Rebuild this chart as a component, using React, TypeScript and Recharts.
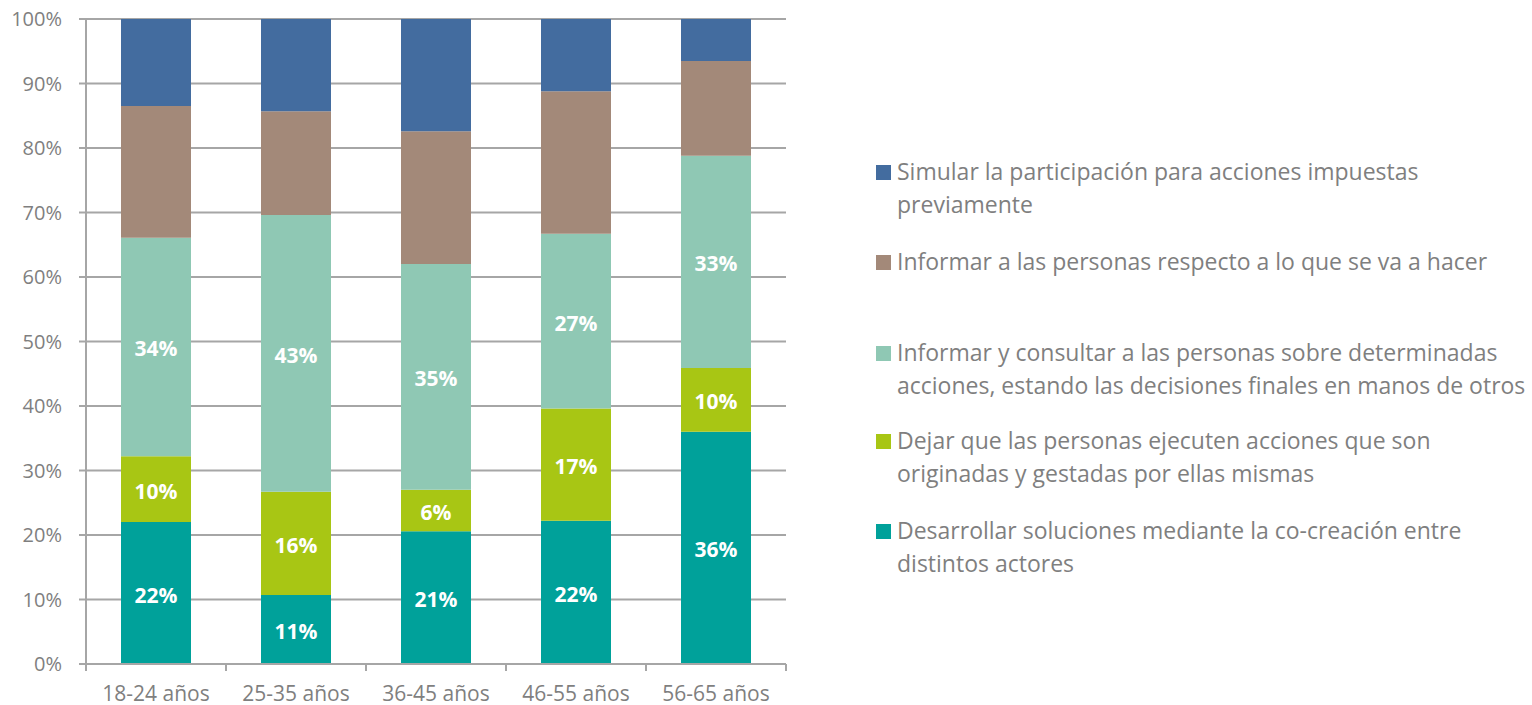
import React from 'react';
import { BarChart, Bar, XAxis, YAxis, CartesianGrid, LabelList } from 'recharts';

const categories = ['18-24 años', '25-35 años', '36-45 años', '46-55 años', '56-65 años'];
const cocreacion = [22.0, 10.7, 20.6, 22.2, 36.0];
const dejar = [10.2, 16.0, 6.4, 17.4, 9.9];
const consultar = [33.9, 42.9, 35.0, 27.1, 32.9];
const informar = [20.4, 16.1, 20.6, 22.1, 14.7];
const simular = [13.5, 14.3, 17.4, 11.2, 6.5];
const yTicks = [0, 10, 20, 30, 40, 50, 60, 70, 80, 90, 100];

const series = [
  { key: 'cocreacion', name: 'Desarrollar soluciones mediante la co-creación entre distintos actores', lines: ['Desarrollar soluciones mediante la co-creación entre', 'distintos actores'], color: '#00A19A', label: true },
  { key: 'dejar', name: 'Dejar que las personas ejecuten acciones que son originadas y gestadas por ellas mismas', lines: ['Dejar que las personas ejecuten acciones que son', 'originadas y gestadas por ellas mismas'], color: '#A8C614', label: true },
  { key: 'consultar', name: 'Informar y consultar a las personas sobre determinadas acciones, estando las decisiones finales en manos de otros', lines: ['Informar y consultar a las personas sobre determinadas', 'acciones, estando las decisiones finales en manos de otros'], color: '#8FC8B4', label: true },
  { key: 'informar', name: 'Informar a las personas respecto a lo que se va a hacer', lines: ['Informar a las personas respecto a lo que se va a hacer'], color: '#A38979', label: false },
  { key: 'simular', name: 'Simular la participación para acciones impuestas previamente', lines: ['Simular la participación para acciones impuestas', 'previamente'], color: '#436C9F', label: false },
];

const data = categories.map((c, i) => ({
  cat: c,
  cocreacion: cocreacion[i],
  dejar: dejar[i],
  consultar: consultar[i],
  informar: informar[i],
  simular: simular[i],
}));

const FONT = '"Open Sans", sans-serif';
const GRID = '#A6A6A6';
const TEXT = '#7F7F7F';
const PLOT_W = 700;
const HALF_BAND = PLOT_W / categories.length / 2;

const XTick = (props: any) => {
  const { x, y, payload } = props;
  return (
    <g>
      <line x1={x - HALF_BAND} x2={x - HALF_BAND} y1={y - 8} y2={y - 1} stroke={GRID} strokeWidth={2} />
      <line x1={x + HALF_BAND} x2={x + HALF_BAND} y1={y - 8} y2={y - 1} stroke={GRID} strokeWidth={2} />
      <text x={x} y={y + 29} textAnchor="middle" fill={TEXT} fontSize={21} fontFamily={FONT}>
        {payload.value}
      </text>
    </g>
  );
};

const legendTops = [155, 245, 336, 424, 514];

const LegendBlock = () => {
  const items = [...series].reverse();
  return (
    <div style={{ position: 'absolute', left: 876, top: 0, width: 656, height: 705, fontFamily: FONT }}>
      {items.map((s, i) => (
        <div key={s.key} style={{ position: 'absolute', left: 0, top: legendTops[i], display: 'flex' }}>
          <div style={{ width: 15, height: 15, background: s.color, marginTop: 10, marginRight: 6, flexShrink: 0 }} />
          <div style={{ color: TEXT, fontSize: 23, lineHeight: '33px', whiteSpace: 'nowrap' }}>
            {s.lines.map((l, j) => (
              <div key={j}>{l}</div>
            ))}
          </div>
        </div>
      ))}
    </div>
  );
};

export default function App() {
  return (
    <div style={{ position: 'absolute', left: 0, top: 0, width: 1532, height: 705, background: '#fff' }}>
      <BarChart
        width={1532}
        height={705}
        data={data}
        margin={{ top: 19, right: 746, left: 26, bottom: 11 }}
      >
        <CartesianGrid vertical={false} stroke={GRID} strokeWidth={2} />
        <XAxis
          dataKey="cat"
          height={30}
          tick={<XTick />}
          tickLine={false}
          axisLine={{ stroke: GRID, strokeWidth: 2 }}
          interval={0}
        />
        <YAxis
          width={60}
          domain={[0, 100]}
          ticks={yTicks}
          tickFormatter={(v: number) => `${v}%`}
          tick={{ fill: TEXT, fontSize: 20, fontFamily: FONT }}
          tickLine={{ stroke: GRID, strokeWidth: 2 }}
          tickSize={7}
          tickMargin={17}
          axisLine={{ stroke: GRID, strokeWidth: 2 }}
          allowDataOverflow
        />
        {series.map((s) => (
          <Bar key={s.key} dataKey={s.key} name={s.name} stackId="a" fill={s.color} barSize={70} isAnimationActive={false}>
            {s.label && (
              <LabelList
                dataKey={s.key}
                position="center"
                formatter={(v: any) => `${Math.round(Number(v))}%`}
                fill="#FFFFFF"
                fontSize={21}
                fontWeight="bold"
                fontFamily={FONT}
                offset={0}
                dy={2}
              />
            )}
          </Bar>
        ))}
      </BarChart>
      <LegendBlock />
    </div>
  );
}
